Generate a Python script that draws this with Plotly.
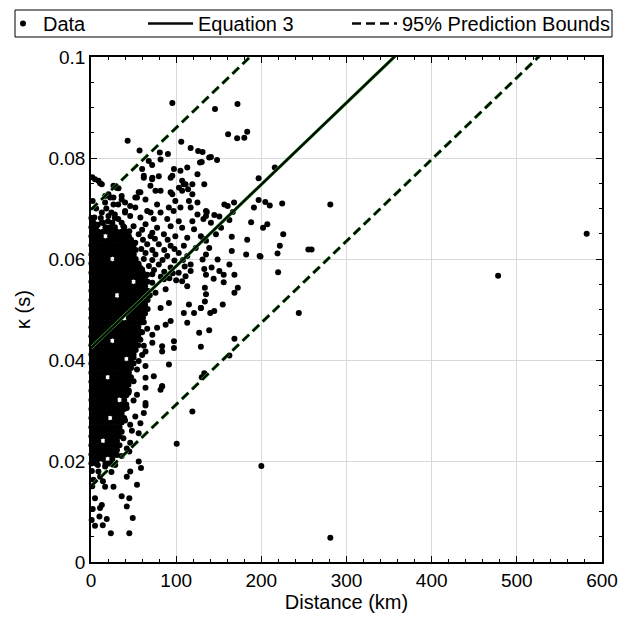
import plotly.graph_objects as go

# ---------------- data ----------------
# Dense core of the cloud, one row per kappa level: (kappa [s], distances [km])
core_rows = [
    (0.0195, [0.5, 6, 17, 22.5]),
    (0.0204, [3, 8.5, 14, 25]),
    (0.0213, [0.5, 6, 11.5, 17, 22.5, 28]),
    (0.0222, [3, 8.5, 14, 19.5, 25, 30.5]),
    (0.0231, [0.5, 6, 11.5, 17, 22.5, 28, 33.5]),
    (0.0240, [3, 8.5, 19.5, 25, 30.5]),
    (0.0249, [0.5, 6, 11.5, 17, 22.5, 28, 33.5]),
    (0.0258, [3, 8.5, 14, 19.5, 25, 30.5, 36]),
    (0.0267, [0.5, 6, 11.5, 17, 22.5, 28, 33.5]),
    (0.0276, [3, 8.5, 14, 19.5, 25, 30.5, 36]),
    (0.0285, [0.5, 6, 11.5, 17, 28, 33.5, 39]),
    (0.0294, [3, 8.5, 14, 19.5, 25, 30.5, 36]),
    (0.0303, [0.5, 6, 11.5, 17, 22.5, 28, 33.5, 39]),
    (0.0312, [3, 8.5, 14, 19.5, 25, 30.5, 36, 41.5]),
    (0.0321, [0.5, 6, 11.5, 17, 22.5, 28, 39]),
    (0.0330, [3, 8.5, 14, 19.5, 25, 30.5, 36, 41.5]),
    (0.0339, [0.5, 6, 11.5, 17, 22.5, 28, 33.5, 39, 44.5]),
    (0.0348, [3, 8.5, 14, 19.5, 25, 30.5, 36, 41.5]),
    (0.0357, [0.5, 6, 11.5, 17, 22.5, 28, 33.5, 39, 44.5]),
    (0.0366, [3, 8.5, 14, 25, 30.5, 36, 41.5, 47]),
    (0.0375, [0.5, 6, 11.5, 17, 22.5, 28, 33.5, 39, 44.5]),
    (0.0384, [3, 8.5, 14, 19.5, 25, 30.5, 36, 41.5, 47]),
    (0.0393, [0.5, 6, 11.5, 17, 22.5, 28, 33.5, 39, 44.5, 50]),
    (0.0402, [3, 8.5, 14, 19.5, 25, 30.5, 36, 47]),
    (0.0411, [0.5, 6, 11.5, 17, 22.5, 28, 33.5, 39, 44.5, 50]),
    (0.0420, [3, 8.5, 14, 19.5, 25, 30.5, 36, 41.5, 47, 52.5]),
    (0.0429, [0.5, 6, 11.5, 17, 22.5, 28, 33.5, 39, 44.5, 50, 55.5]),
    (0.0438, [3, 8.5, 14, 19.5, 30.5, 36, 41.5, 47, 52.5]),
    (0.0447, [0.5, 6, 11.5, 17, 22.5, 28, 33.5, 39, 44.5, 50, 55.5]),
    (0.0456, [3, 8.5, 14, 19.5, 25, 30.5, 36, 41.5, 47, 52.5, 58]),
    (0.0465, [0.5, 6, 11.5, 17, 22.5, 28, 33.5, 39, 44.5, 50, 55.5]),
    (0.0474, [3, 8.5, 14, 19.5, 25, 30.5, 36, 41.5, 47, 52.5, 58]),
    (0.0483, [0.5, 6, 11.5, 17, 22.5, 28, 33.5, 44.5, 50, 55.5, 61]),
    (0.0492, [3, 8.5, 14, 19.5, 25, 30.5, 36, 41.5, 47, 52.5, 58, 63.5]),
    (0.0501, [0.5, 6, 11.5, 17, 22.5, 28, 33.5, 39, 44.5, 50, 55.5, 61, 66.5]),
    (0.0510, [3, 8.5, 14, 19.5, 25, 30.5, 36, 41.5, 47, 52.5, 58, 63.5]),
    (0.0519, [0.5, 6, 11.5, 17, 22.5, 28, 33.5, 39, 44.5, 50, 55.5, 61, 66.5]),
    (0.0528, [3, 8.5, 14, 19.5, 25, 36, 41.5, 47, 52.5, 58, 63.5, 69]),
    (0.0537, [0.5, 6, 11.5, 17, 22.5, 28, 33.5, 39, 44.5, 50, 55.5, 61, 66.5]),
    (0.0546, [3, 8.5, 14, 19.5, 25, 30.5, 36, 41.5, 47, 52.5, 58, 63.5]),
    (0.0555, [0.5, 6, 11.5, 17, 22.5, 28, 33.5, 39, 44.5, 55.5, 61, 66.5]),
    (0.0564, [3, 8.5, 14, 19.5, 25, 30.5, 36, 41.5, 47, 52.5, 58, 63.5]),
    (0.0573, [0.5, 6, 11.5, 17, 22.5, 28, 33.5, 39, 44.5, 50, 55.5, 61]),
    (0.0582, [3, 8.5, 14, 19.5, 25, 30.5, 36, 41.5, 47, 52.5, 58]),
    (0.0591, [0.5, 6, 11.5, 17, 22.5, 28, 33.5, 39, 44.5, 50, 55.5]),
    (0.0600, [3, 8.5, 14, 19.5, 30.5, 36, 41.5, 47, 52.5]),
    (0.0609, [0.5, 6, 11.5, 17, 22.5, 28, 33.5, 39, 44.5, 50]),
    (0.0618, [3, 8.5, 14, 19.5, 25, 30.5, 36, 41.5, 47, 52.5]),
    (0.0627, [0.5, 6, 11.5, 17, 22.5, 28, 33.5, 39, 44.5, 50]),
    (0.0636, [3, 8.5, 14, 19.5, 25, 30.5, 36, 41.5, 47]),
    (0.0645, [0.5, 6, 11.5, 22.5, 28, 33.5, 39, 44.5]),
    (0.0654, [3, 8.5, 14, 19.5, 25, 30.5, 36, 41.5]),
    (0.0663, [0.5, 6, 17, 22.5, 28, 39]),
    (0.0672, [3, 14, 25, 36]),
    (0.0681, [0.5, 11.5, 28]),
]

# Scattered points above the core (distance km, kappa s)
upper_pts = [
    (95.5, .0909), (43, .0834), (57, .0815), (80.8, .0811), (90.3, .0808), (67.8, .0794),
    (81.7, .0797), (106, .0832), (117, .0820), (125.8, .0814), (128, .0791), (138.8, .0801),
    (71.8, .0786), (60, .0778), (97.4, .0778), (105, .0775), (113, .0781), (4.7, .0758),
    (10.7, .0750), (62, .0761), (71.8, .0758), (93.5, .0761), (79.6, .0764), (107, .0755),
    (111, .0748), (114, .0738), (69.8, .0745), (81.7, .0735), (56, .0732), (54, .0722),
    (32.3, .0740), (26.4, .0745), (16.6, .0725), (22.5, .0722), (95.5, .0728), (103.3, .0741),
    (119, .0728), (125, .0712), (135, .0695), (12.7, .0692), (26.4, .0708), (36, .0718),
    (46, .0705), (66, .0695), (77.6, .0708), (91.4, .0702), (117, .0702), (20.5, .0685),
    (8.7, .0755), (12.7, .0748), (30, .0741), (20.5, .0728), (26.4, .0722), (36, .0725),
    (16.6, .0712), (32, .0708), (24, .0692), (40, .0695), (32, .0679), (12.7, .0672),
    (2.8, .0645), (1.5, .0762), (2, .0715), (6, .0700), (18, .0700), (28, .0688),
    (4, .0682), (20, .0675), (8, .0668),
]

# Scattered points in the middle band (mostly 35-140 km)
middle_pts = [
    (62, .0765), (72, .0761), (95.5, .0765), (125, .0768), (109, .0748), (119, .0748),
    (133, .0748), (58, .0732), (75.7, .0735), (93.5, .0732), (107, .0735), (52, .0722),
    (64, .0718), (99, .0715), (115, .0715), (40, .0712), (40, .0692), (52, .0702),
    (70, .0692), (81.7, .0692), (97, .0695), (105, .0702), (125, .0688), (46, .0685),
    (58, .0682), (73.7, .0679), (89.5, .0679), (103, .0675), (119, .0675), (135, .0685),
    (38, .0665), (50, .0665), (64, .0669), (77.6, .0662), (93.5, .0665), (107, .0662),
    (121, .0659), (42, .0649), (56, .0649), (70, .0645), (85.6, .0649), (99, .0645),
    (113, .0642), (129, .0645), (40, .0629), (52, .0632), (66, .0629), (79.6, .0629),
    (93.5, .0626), (109, .0626), (123, .0622), (135, .0636), (38, .0612), (50, .0609),
    (64, .0612), (75.7, .0609), (89.5, .0606), (103, .0612), (113, .0606), (42, .0593),
    (56, .0589), (68, .0586), (79.6, .0589), (93.5, .0583), (117, .0589), (131, .0599),
    (38, .0573), (52, .0569), (66, .0569), (103, .0573), (117, .0576), (133, .0580),
    (135, .0609), (45, .0655), (60, .0658), (72, .0652), (47, .0638), (61, .0638),
    (75, .0640), (90, .0638), (45, .0620), (59, .0620), (72, .0618), (86, .0618),
    (98, .0620), (46, .0601), (62, .0600), (72, .0598), (84, .0598), (98, .0597),
    (108, .0598), (45, .0580), (60, .0579), (74, .0578), (86, .0575), (96, .0572),
    (110, .0585), (60, .0560), (72, .0570), (82, .0565), (92, .0562), (100, .0558),
    (72, .0553), (85.6, .0560), (107, .0556), (113, .0546), (111, .0566), (87.6, .0540),
    (75.7, .0533), (91.5, .0513), (81.7, .0503), (115, .0510), (109, .0493), (121, .0493),
    (129, .0503), (113, .0474), (93.5, .0477), (87.6, .0470), (77.6, .0464), (72, .0450),
    (127, .0454), (97.4, .0437), (97.4, .0424), (83.5, .0427), (83.5, .0417), (72, .0434),
    (64, .0417), (91.5, .0391), (64, .0388), (54, .0381), (73.7, .0368), (64, .0365),
    (50, .0358), (44, .0351), (83.5, .0348), (81.7, .0341), (64, .0345), (54, .0331),
    (62, .0475), (66, .0462), (60, .0455), (58, .0440), (62, .0428), (50, .0405),
    (56, .0398), (47, .0392), (60, .0410), (130, .0366), (133, .0374),
]

# Scattered points beyond ~130 km, around the fitted line
outer_pts = [
    (172, .0907), (145.6, .0897), (161, .0847), (171.6, .0839), (180, .0840), (183.4, .0852),
    (131, .0812), (140.8, .0802), (148, .0796), (130, .0792), (215.8, .0781), (196.8, .0760),
    (156.6, .0708), (160.5, .0705), (168, .0712), (196.8, .0717), (204.7, .0713), (209.9, .0706),
    (224.5, .0710), (136, .0693), (144.8, .0687), (150.7, .0684), (166.5, .0693), (191.3, .0702),
    (132, .0679), (140.8, .0672), (162.5, .0677), (188, .0673), (207, .0669), (202, .0662),
    (152.7, .0662), (146.7, .0649), (225.7, .0649), (165.3, .0644), (183.4, .0638), (132, .0640),
    (221.7, .0626), (138.8, .0622), (165.3, .0616), (182.2, .0609), (219, .0611), (198, .0606),
    (255.2, .0619), (259, .0619), (199, .0605), (219.7, .0574), (148.7, .0599), (162.5, .0589),
    (135, .0569), (141.6, .0583), (150.7, .0576), (155.8, .0569), (144, .0561), (168.4, .0569),
    (172.4, .0543), (155.8, .0554), (133.7, .0543), (135, .0530), (133.7, .0516), (168.4, .0533),
    (154.7, .0510), (144.7, .0497), (140, .0493), (129, .0503), (138.8, .0459), (168.4, .0442),
    (162.5, .0409), (129, .0426), (244, .0493), (281, .0708), (281, .0048), (200, .0190),
    (478, .0567), (582, .0650),
]

# Scattered points below the core (low kappa)
lower_pts = [
    (83.5, .0348), (64, .0310), (62, .0295), (119, .0298), (100.6, .0234), (56, .0255),
    (46, .0236), (45, .0219), (56, .0199), (58.7, .0186), (46, .0179), (42, .0169),
    (54, .0153), (26.4, .0149), (16.6, .0149), (4.7, .0126), (36, .0130), (45, .0126),
    (12.7, .0113), (10.6, .0107), (42, .0110), (9.9, .0090), (18.5, .0085), (49, .0087),
    (4.7, .0072), (13.8, .0073), (23.3, .0057), (45, .0057), (2.8, .0163), (10.7, .0169),
    (8.7, .0179), (16.6, .0189), (28.4, .0192), (30.5, .0212), (58, .0275), (46, .0272),
    (64, .0315), (1, .0180), (1.5, .0150), (0.8, .0083), (2, .0105), (44, .0335),
    (50, .0320), (42, .0305), (52, .0288), (40, .0280), (48, .0260), (38, .0245),
    (42, .0225), (36, .0210), (20, .0195), (8, .0192), (24, .0178), (14, .0160),
]

# Equation 3 (linear fit) and its 95 % prediction half-width
eq_intercept = 0.0424
eq_slope = 0.0001618
pb_halfwidth = 0.0274

x_range = [0, 600]
y_range = [0, 0.1]
x_ticks = [0, 100, 200, 300, 400, 500, 600]
y_ticks = [0, 0.02, 0.04, 0.06, 0.08, 0.1]
y_ticklabels = ["0", "0.02", "0.04", "0.06", "0.08", "0.1"]

# ---------------- assemble ----------------
data_x, data_y = [], []
for k, row in core_rows:
    for d in row:
        data_x.append(d)
        data_y.append(k)
for group in (upper_pts, middle_pts, outer_pts, lower_pts):
    for d, k in group:
        data_x.append(d)
        data_y.append(k)

line_x = list(x_range)
fit_y = [eq_intercept + eq_slope * v for v in line_x]
up_y = [v + pb_halfwidth for v in fit_y]
lo_y = [v - pb_halfwidth for v in fit_y]

FONT = "Liberation Sans, Arial, sans-serif"
HALO = "#4ccc4c"
CORE = "#050805"
DASH = "9px,5px"

fig = go.Figure()
fig.add_trace(go.Scatter(x=data_x, y=data_y, mode="markers", name="Data",
                         marker=dict(color="black", size=6, line=dict(width=0)),
                         cliponaxis=False, legend="legend"))
# green fringe under the lines
for yy, dash in ((fit_y, "solid"), (up_y, DASH), (lo_y, DASH)):
    fig.add_trace(go.Scatter(x=line_x, y=yy, mode="lines", showlegend=False,
                             line=dict(color=HALO, width=3.4, dash=dash), hoverinfo="skip"))
fig.add_trace(go.Scatter(x=line_x, y=fit_y, mode="lines", name="Equation 3",
                         line=dict(color=CORE, width=2.5), legend="legend2"))
fig.add_trace(go.Scatter(x=line_x, y=up_y, mode="lines", name="95% Prediction Bounds",
                         line=dict(color=CORE, width=2.5, dash=DASH), legend="legend3"))
fig.add_trace(go.Scatter(x=line_x, y=lo_y, mode="lines", showlegend=False,
                         line=dict(color=CORE, width=2.5, dash=DASH)))

L, R, T, B = 91, 20, 57, 63
W, H = 622, 625
pw, ph = W - L - R, H - T - B


def px2x(px):
    return (px - L) / pw


def py2y(py):
    return (H - B - py) / ph


leg_common = dict(orientation="h", yanchor="middle", y=py2y(23.5), xanchor="left",
                  bgcolor="rgba(0,0,0,0)", borderwidth=0,
                  font=dict(family=FONT, size=20, color="black"))

fig.update_layout(
    width=W, height=H,
    margin=dict(l=L, r=R, t=T, b=B, autoexpand=False),
    paper_bgcolor="white", plot_bgcolor="white",
    font=dict(family=FONT, size=19, color="black"),
    legend=dict(x=px2x(3), itemwidth=30, **leg_common),
    legend2=dict(x=px2x(143), itemwidth=45, **leg_common),
    legend3=dict(x=px2x(347), itemwidth=45, **leg_common),
    shapes=[dict(type="rect", xref="paper", yref="paper",
                 x0=px2x(15), x1=px2x(612), y0=py2y(37), y1=py2y(10),
                 line=dict(color="black", width=1), fillcolor="rgba(0,0,0,0)")],
    xaxis=dict(range=x_range, tickvals=x_ticks, ticks="inside", ticklen=6, tickwidth=1,
               tickcolor="black", showline=True, linecolor="black", linewidth=1.5,
               mirror="ticks", showgrid=True, gridcolor="#d9d9d9", gridwidth=1,
               zeroline=False, tickfont=dict(size=19), automargin=False,
               minor=dict(dtick=20, ticks="inside", ticklen=3, tickcolor="black", showgrid=False),
               title=dict(text="Distance (km)", font=dict(size=20), standoff=5)),
    yaxis=dict(range=y_range, tickvals=y_ticks, ticktext=y_ticklabels, ticks="inside",
               ticklen=6, tickwidth=1, tickcolor="black", showline=True, linecolor="black",
               linewidth=1.5, mirror="ticks", showgrid=True, gridcolor="#d9d9d9", gridwidth=1,
               zeroline=False, tickfont=dict(size=19), automargin=False,
               minor=dict(dtick=0.005, ticks="inside", ticklen=3, tickcolor="black", showgrid=False),
               title=dict(text="κ (s)", font=dict(size=20), standoff=12)),
)

fig.write_html("out.html")
